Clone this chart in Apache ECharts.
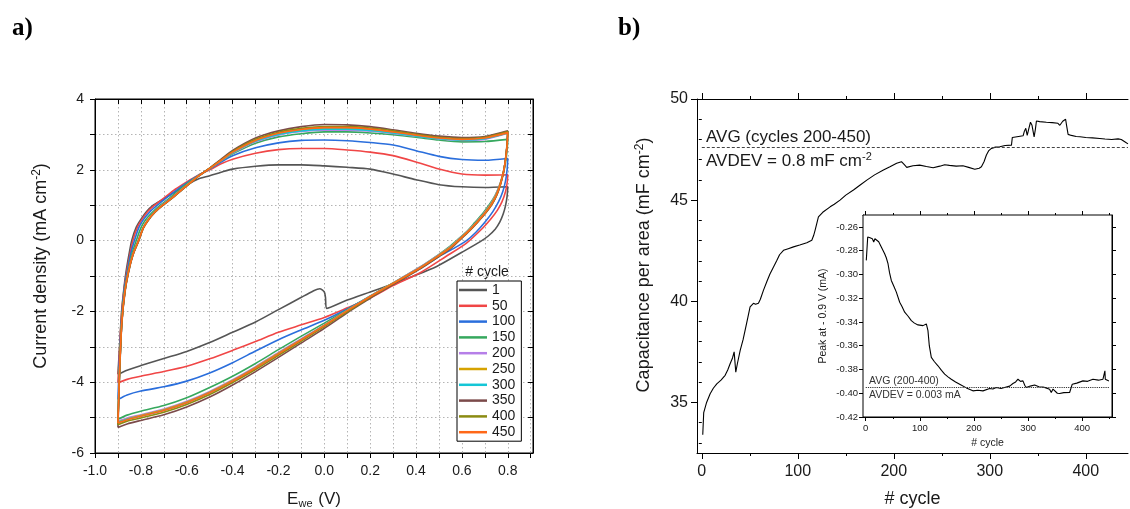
<!DOCTYPE html>
<html><head><meta charset="utf-8">
<script src="https://cdn.jsdelivr.net/npm/echarts@6/dist/echarts.min.js"></script>
<style>html,body{margin:0;padding:0;background:#fff}#c{width:1130px;height:509px}</style>
</head><body><div id="c"></div>
<script>
// ---------- Panel a: CV loops (E / V, j / mA cm-2) ----------
const cycles = ['1','50','100','150','200','250','300','350','400','450'];
const cycleColors = ['#555555','#f04646','#2a6edc','#36a85e','#b67fe8','#d6a200','#14c6d6','#7b4a4a','#8b8b12','#ff6818'];

const cv1 = [[-0.9,-3.78],[-0.893,-3.0],[-0.884,-2.0],[-0.873,-1.3],[-0.865,-0.9],[-0.852,-0.4],[-0.84,0],[-0.82,0.38],[-0.8,0.6],[-0.775,0.82],[-0.75,0.98],[-0.7,1.18],[-0.65,1.38],[-0.6,1.57],[-0.55,1.74],[-0.5,1.83],[-0.45,1.93],[-0.4,2.02],[-0.3,2.1],[-0.2,2.14],[-0.1,2.14],[0,2.11],[0.1,2.07],[0.2,2.02],[0.3,1.88],[0.4,1.72],[0.5,1.58],[0.6,1.52],[0.7,1.5],[0.8,1.52],
 [0.797,1.25],[0.79,0.98],[0.78,0.75],[0.765,0.52],[0.745,0.32],[0.715,0.13],[0.68,-0.03],[0.6,-0.33],[0.49,-0.73],[0.39,-1.0],[0.3,-1.22],[0.2,-1.45],[0.1,-1.68],[0.01,-1.92],[0.005,-1.6],[0.0,-1.45],[-0.02,-1.36],[-0.05,-1.43],[-0.1,-1.6],[-0.2,-1.95],[-0.3,-2.3],[-0.4,-2.59],[-0.5,-2.88],[-0.6,-3.13],[-0.7,-3.33],[-0.8,-3.53],[-0.86,-3.66],[-0.9,-3.78]];
const cv50 = [[-0.9,-4.02],[-0.893,-3.1],[-0.883,-2.0],[-0.872,-1.3],[-0.862,-0.9],[-0.848,-0.4],[-0.835,0],[-0.815,0.38],[-0.795,0.6],[-0.77,0.82],[-0.74,1.0],[-0.7,1.2],[-0.65,1.45],[-0.6,1.66],[-0.55,1.85],[-0.5,2.0],[-0.45,2.17],[-0.4,2.3],[-0.3,2.47],[-0.2,2.57],[-0.1,2.6],[0,2.6],[0.1,2.56],[0.2,2.5],[0.3,2.4],[0.4,2.22],[0.5,2.02],[0.6,1.88],[0.7,1.85],[0.8,1.86],
 [0.797,1.62],[0.79,1.38],[0.775,1.1],[0.755,0.86],[0.725,0.6],[0.69,0.35],[0.62,-0.07],[0.53,-0.45],[0.42,-0.9],[0.3,-1.27],[0.2,-1.62],[0.1,-1.9],[0,-2.17],[-0.1,-2.38],[-0.2,-2.59],[-0.3,-2.85],[-0.4,-3.1],[-0.5,-3.34],[-0.6,-3.55],[-0.7,-3.7],[-0.8,-3.83],[-0.86,-3.92],[-0.9,-4.02]];
const cv100 = [[-0.9,-4.49],[-0.893,-3.3],[-0.883,-2.1],[-0.872,-1.35],[-0.86,-0.9],[-0.845,-0.4],[-0.828,0],[-0.808,0.38],[-0.788,0.6],[-0.76,0.82],[-0.728,1.0],[-0.69,1.2],[-0.64,1.45],[-0.6,1.63],[-0.55,1.84],[-0.5,2.02],[-0.45,2.22],[-0.4,2.4],[-0.3,2.62],[-0.2,2.76],[-0.1,2.83],[0,2.84],[0.1,2.82],[0.2,2.77],[0.3,2.7],[0.4,2.54],[0.5,2.38],[0.6,2.29],[0.7,2.27],[0.8,2.32],
 [0.797,2.0],[0.79,1.68],[0.778,1.38],[0.76,1.1],[0.735,0.82],[0.7,0.52],[0.66,0.23],[0.62,0.0],[0.57,-0.2],[0.5,-0.45],[0.42,-0.78],[0.33,-1.1],[0.2,-1.58],[0.1,-1.93],[0,-2.25],[-0.1,-2.52],[-0.2,-2.8],[-0.3,-3.12],[-0.4,-3.45],[-0.5,-3.74],[-0.6,-3.97],[-0.7,-4.13],[-0.8,-4.25],[-0.86,-4.36],[-0.9,-4.49]];
const cv150 = [[-0.9,-5.05],[-0.893,-3.6],[-0.883,-2.2],[-0.871,-1.4],[-0.857,-0.9],[-0.84,-0.4],[-0.82,0],[-0.8,0.36],[-0.78,0.58],[-0.75,0.8],[-0.715,1.0],[-0.675,1.2],[-0.63,1.45],[-0.59,1.65],[-0.55,1.83],[-0.5,2.03],[-0.45,2.25],[-0.4,2.45],[-0.3,2.75],[-0.2,2.93],[-0.1,3.02],[0,3.07],[0.1,3.07],[0.2,3.04],[0.3,2.99],[0.4,2.92],[0.5,2.84],[0.6,2.79],[0.7,2.8],[0.8,2.86],
 [0.797,2.55],[0.79,2.2],[0.78,1.88],[0.765,1.58],[0.745,1.28],[0.72,1.02],[0.69,0.76],[0.655,0.5],[0.62,0.25],[0.58,0.02],[0.54,-0.2],[0.5,-0.39],[0.42,-0.74],[0.33,-1.08],[0.24,-1.42],[0.2,-1.56],[0.1,-1.95],[0,-2.33],[-0.1,-2.7],[-0.2,-3.08],[-0.3,-3.47],[-0.4,-3.83],[-0.5,-4.15],[-0.6,-4.44],[-0.7,-4.66],[-0.8,-4.82],[-0.86,-4.93],[-0.9,-5.05]];
const cv200 = [[-0.9,-5.1],[-0.893,-3.7],[-0.883,-2.3],[-0.87,-1.45],[-0.855,-0.9],[-0.836,-0.4],[-0.812,0],[-0.792,0.35],[-0.772,0.57],[-0.742,0.8],[-0.708,1.0],[-0.668,1.2],[-0.622,1.45],[-0.582,1.66],[-0.546,1.84],[-0.5,2.04],[-0.45,2.26],[-0.4,2.47],[-0.3,2.79],[-0.2,2.98],[-0.1,3.08],[0,3.12],[0.1,3.12],[0.2,3.09],[0.3,3.03],[0.4,2.95],[0.5,2.87],[0.6,2.83],[0.7,2.86],[0.8,3.03],
 [0.797,2.7],[0.791,2.33],[0.782,1.98],[0.768,1.64],[0.75,1.33],[0.727,1.05],[0.697,0.78],[0.662,0.52],[0.627,0.28],[0.588,0.05],[0.55,-0.17],[0.5,-0.4],[0.42,-0.74],[0.33,-1.08],[0.24,-1.42],[0.2,-1.57],[0.1,-1.97],[0,-2.38],[-0.1,-2.77],[-0.2,-3.16],[-0.3,-3.56],[-0.4,-3.93],[-0.5,-4.26],[-0.6,-4.54],[-0.7,-4.76],[-0.8,-4.92],[-0.86,-5.01],[-0.9,-5.1]];
const cv250 = [[-0.9,-5.13],[-0.893,-3.7],[-0.883,-2.3],[-0.87,-1.45],[-0.855,-0.9],[-0.835,-0.4],[-0.811,0],[-0.791,0.35],[-0.771,0.57],[-0.741,0.8],[-0.706,1.0],[-0.666,1.2],[-0.621,1.45],[-0.581,1.66],[-0.545,1.84],[-0.5,2.04],[-0.45,2.27],[-0.4,2.49],[-0.3,2.82],[-0.2,3.02],[-0.1,3.12],[0,3.17],[0.1,3.17],[0.2,3.13],[0.3,3.06],[0.4,2.97],[0.5,2.89],[0.6,2.85],[0.7,2.89],[0.8,3.04],
 [0.797,2.7],[0.791,2.33],[0.782,1.97],[0.768,1.63],[0.751,1.32],[0.728,1.04],[0.699,0.78],[0.664,0.52],[0.629,0.28],[0.59,0.05],[0.551,-0.18],[0.5,-0.41],[0.42,-0.75],[0.33,-1.09],[0.24,-1.42],[0.2,-1.58],[0.1,-1.98],[0,-2.39],[-0.1,-2.79],[-0.2,-3.18],[-0.3,-3.58],[-0.4,-3.95],[-0.5,-4.28],[-0.6,-4.56],[-0.7,-4.78],[-0.8,-4.94],[-0.86,-5.04],[-0.9,-5.13]];
const cv300 = [[-0.9,-5.14],[-0.893,-3.7],[-0.883,-2.3],[-0.87,-1.45],[-0.855,-0.9],[-0.835,-0.4],[-0.81,0],[-0.79,0.35],[-0.77,0.57],[-0.74,0.8],[-0.706,1.0],[-0.666,1.2],[-0.62,1.45],[-0.58,1.66],[-0.545,1.84],[-0.5,2.04],[-0.45,2.27],[-0.4,2.49],[-0.3,2.81],[-0.2,3.0],[-0.1,3.1],[0,3.15],[0.1,3.15],[0.2,3.11],[0.3,3.04],[0.4,2.95],[0.5,2.88],[0.6,2.84],[0.7,2.88],[0.8,3.05],
 [0.797,2.7],[0.791,2.33],[0.782,1.96],[0.769,1.62],[0.752,1.31],[0.73,1.03],[0.7,0.77],[0.666,0.52],[0.631,0.28],[0.592,0.05],[0.552,-0.19],[0.5,-0.42],[0.42,-0.76],[0.33,-1.1],[0.24,-1.43],[0.2,-1.58],[0.1,-1.98],[0,-2.4],[-0.1,-2.8],[-0.2,-3.2],[-0.3,-3.6],[-0.4,-3.97],[-0.5,-4.3],[-0.6,-4.58],[-0.7,-4.8],[-0.8,-4.96],[-0.86,-5.05],[-0.9,-5.14]];
const cv350 = [[-0.9,-5.28],[-0.893,-3.8],[-0.883,-2.35],[-0.869,-1.45],[-0.854,-0.9],[-0.834,-0.4],[-0.809,0],[-0.789,0.35],[-0.768,0.57],[-0.738,0.8],[-0.703,1.0],[-0.663,1.2],[-0.618,1.45],[-0.578,1.66],[-0.544,1.84],[-0.5,2.05],[-0.45,2.3],[-0.4,2.55],[-0.3,2.9],[-0.2,3.1],[-0.1,3.22],[0,3.28],[0.1,3.27],[0.2,3.22],[0.3,3.13],[0.4,3.03],[0.5,2.95],[0.6,2.91],[0.7,2.94],[0.8,3.1],
 [0.797,2.74],[0.791,2.35],[0.783,1.97],[0.77,1.62],[0.754,1.31],[0.732,1.03],[0.703,0.77],[0.669,0.52],[0.634,0.28],[0.595,0.04],[0.553,-0.21],[0.5,-0.45],[0.42,-0.79],[0.33,-1.13],[0.24,-1.47],[0.2,-1.63],[0.1,-2.04],[0,-2.48],[-0.1,-2.89],[-0.2,-3.3],[-0.3,-3.7],[-0.4,-4.08],[-0.5,-4.42],[-0.6,-4.7],[-0.7,-4.92],[-0.8,-5.08],[-0.86,-5.18],[-0.9,-5.28]];
const cv400 = [[-0.9,-5.2],[-0.893,-3.75],[-0.883,-2.3],[-0.87,-1.45],[-0.855,-0.9],[-0.835,-0.4],[-0.81,0],[-0.79,0.35],[-0.769,0.57],[-0.739,0.8],[-0.704,1.0],[-0.664,1.2],[-0.619,1.45],[-0.579,1.66],[-0.545,1.84],[-0.5,2.05],[-0.45,2.28],[-0.4,2.52],[-0.3,2.86],[-0.2,3.06],[-0.1,3.17],[0,3.22],[0.1,3.22],[0.2,3.18],[0.3,3.1],[0.4,3.0],[0.5,2.92],[0.6,2.88],[0.7,2.92],[0.8,3.08],
 [0.797,2.72],[0.791,2.34],[0.782,1.96],[0.769,1.62],[0.753,1.31],[0.731,1.03],[0.701,0.77],[0.667,0.52],[0.632,0.28],[0.593,0.05],[0.552,-0.2],[0.5,-0.43],[0.42,-0.77],[0.33,-1.11],[0.24,-1.45],[0.2,-1.6],[0.1,-2.01],[0,-2.43],[-0.1,-2.84],[-0.2,-3.24],[-0.3,-3.64],[-0.4,-4.01],[-0.5,-4.35],[-0.6,-4.63],[-0.7,-4.85],[-0.8,-5.01],[-0.86,-5.1],[-0.9,-5.2]];
const cv450 = [[-0.9,-5.15],[-0.893,-3.7],[-0.883,-2.3],[-0.87,-1.45],[-0.855,-0.9],[-0.835,-0.4],[-0.81,0],[-0.79,0.35],[-0.77,0.57],[-0.74,0.8],[-0.705,1.0],[-0.665,1.2],[-0.62,1.45],[-0.58,1.66],[-0.545,1.84],[-0.5,2.04],[-0.45,2.27],[-0.4,2.5],[-0.3,2.83],[-0.2,3.03],[-0.1,3.14],[0,3.19],[0.1,3.19],[0.2,3.15],[0.3,3.07],[0.4,2.98],[0.5,2.9],[0.6,2.86],[0.7,2.9],[0.8,3.05],
 [0.797,2.7],[0.791,2.33],[0.782,1.96],[0.769,1.62],[0.752,1.31],[0.73,1.03],[0.7,0.77],[0.666,0.52],[0.631,0.28],[0.592,0.05],[0.552,-0.19],[0.5,-0.42],[0.42,-0.76],[0.33,-1.1],[0.24,-1.43],[0.2,-1.58],[0.1,-1.98],[0,-2.4],[-0.1,-2.8],[-0.2,-3.2],[-0.3,-3.6],[-0.4,-3.97],[-0.5,-4.3],[-0.6,-4.58],[-0.7,-4.8],[-0.8,-4.96],[-0.86,-5.06],[-0.9,-5.15]];
const cvData = [cv1, cv50, cv100, cv150, cv200, cv250, cv300, cv350, cv400, cv450];

// ---------- Panel b: capacitance vs cycle ----------
const capacitance = [[1,33.4],[2,34.5],[5,35.0],[8.7,35.43],[12,35.7],[15.6,35.92],[20,36.1],[24.3,36.34],[27,36.6],[29.5,36.91],[32,37.2],[33.7,37.5],[35.4,36.5],[37,36.9],[40,37.57],[43,38.1],[45.1,38.56],[48,39.2],[50.3,39.72],[53.8,39.9],[56,39.85],[59,39.9],[61,40.1],[64.2,40.54],[68,41.0],[71,41.35],[74.7,41.7],[78,42.0],[81,42.3],[85.1,42.52],[90,42.6],[95.5,42.69],[102,42.78],[109.4,42.89],[114.6,43.02],[116.5,43.25],[118,43.51],[121.5,44.17],[126,44.4],[133.7,44.67],[138,44.8],[144,45.0],[150,45.25],[158,45.5],[165,45.75],[171.9,45.99],[180,46.25],[189.2,46.49],[196,46.65],[203,46.82],[208,46.9],[211,46.75],[213.5,46.62],[220,46.7],[227,46.73],[234,46.66],[241,46.6],[248,46.68],[253,46.75],[258,46.72],[265,46.68],[272,46.7],[278,46.62],[284.4,46.53],[289,46.58],[291.3,46.65],[294,46.9],[296.5,47.23],[299,47.45],[301.7,47.56],[306,47.62],[310.4,47.64],[316,47.7],[322.6,47.72],[323.5,48.1],[325,48.13],[330,48.15],[334.7,48.18],[336,48.4],[337.5,48.55],[339,48.2],[341,48.6],[342.4,48.85],[344,48.7],[346.2,48.13],[347.5,48.5],[348.6,48.91],[352,48.88],[359,48.85],[365,48.83],[371,48.8],[373,48.7],[376,48.9],[379,49.0],[380,48.7],[381.6,48.25],[385,48.2],[390,48.15],[394,48.13],[400,48.1],[407,48.08],[414.6,48.05],[420,48.02],[427,48.0],[433.7,48.03],[437,48.0],[440.6,47.89],[444,47.78]];
const capAvg = 47.6;
const capTicks = [35, 40, 45, 50];
const capMinor = [33,34,36,37,38,39,41,42,43,44,46,47,48,49];
const cycleTicks = [0, 100, 200, 300, 400];
const cycleMinor = [50, 150, 250, 350];

// ---------- Inset: peak at -0.9 V ----------
const peak = [[1.1,-0.2882],[3.7,-0.2685],[8,-0.2692],[12.2,-0.2699],[14.8,-0.2727],[17,-0.2700],[19.6,-0.2685],[24,-0.2725],[28.8,-0.2769],[35,-0.2826],[38,-0.2860],[41.2,-0.291],[44,-0.2985],[47.3,-0.3051],[52,-0.3100],[56.6,-0.3149],[62.8,-0.3234],[67,-0.3270],[72,-0.3318],[78,-0.3350],[84.3,-0.3389],[90,-0.3410],[96.6,-0.3425],[105.8,-0.3431],[112,-0.3417],[115,-0.3473],[117.5,-0.3600],[121.2,-0.3698],[127,-0.3735],[133.5,-0.3769],[140,-0.3808],[145.9,-0.3839],[152,-0.3862],[158.1,-0.3882],[166,-0.3905],[173.6,-0.3924],[186,-0.3955],[198,-0.398],[207,-0.3975],[216.6,-0.398],[229,-0.396],[235,-0.3965],[241.2,-0.3952],[250,-0.3960],[259.7,-0.3947],[266,-0.3940],[272,-0.3918],[277,-0.3905],[281.3,-0.3882],[286,-0.3900],[290.5,-0.3896],[294,-0.3935],[296.6,-0.3952],[304,-0.3940],[312,-0.393],[320,-0.3945],[327.4,-0.3947],[333,-0.3955],[339.7,-0.3966],[342.8,-0.3994],[346,-0.3965],[349,-0.398],[354,-0.4000],[358.3,-0.4002],[366,-0.3995],[376.7,-0.3994],[381.6,-0.3924],[390,-0.3915],[401.3,-0.3896],[410,-0.3900],[419.8,-0.3882],[430,-0.3890],[438.3,-0.3882],[440.5,-0.3870],[441.9,-0.3811],[442.6,-0.3882],[446,-0.3890],[449.3,-0.3896]];
const peakAvg = -0.395;
const peakTicks = [-0.42,-0.40,-0.38,-0.36,-0.34,-0.32,-0.30,-0.28,-0.26];
const peakMinor = [-0.41,-0.39,-0.37,-0.35,-0.33,-0.31,-0.29,-0.27,-0.25];
const insetCycleMinor = [50,150,250,350,450];

// ---------- build chart ----------
const FONT = 'Liberation Sans, Arial, sans-serif';
const TXT = '#1a1a1a';
function ax(o) {
  return Object.assign({
    type: 'value',
    axisLine: {show: true, onZero: false, lineStyle: {color: '#000', width: 1}},
    axisTick: {show: false},
    axisLabel: {show: false},
    splitLine: {show: false},
    minorTick: {show: false},
    minorSplitLine: {show: false}
  }, o);
}
function ticks(values, len, inside) {
  return {show: true, customValues: values, length: len, inside: !!inside, lineStyle: {color: '#000', width: 1}};
}
const noLine = {show: false};
const gridDots = {show: true, lineStyle: {type: [1.5, 2.5], color: '#b4b4b4', width: 1}};

const xAxes = [
  // panel a
  ax({gridIndex: 0, position: 'bottom', min: -1, max: 0.91, interval: 0.1,
      axisTick: {show: true, length: 5, lineStyle: {color: '#000'}},
      axisLabel: {show: true, fontSize: 14, fontFamily: FONT, color: TXT, margin: 11, showMaxLabel: false,
        formatter: v => (Math.abs(Math.round(v * 10)) % 2 === 0 && v < 0.85) ? v.toFixed(1) : ''},
      splitLine: gridDots,
      name: '{m|E}{s|we}{m| (V)}', nameLocation: 'middle', nameGap: 36,
      nameTextStyle: {color: TXT, fontFamily: FONT, rich: {m: {fontSize: 17, fontFamily: FONT, color: TXT}, s: {fontSize: 11, fontFamily: FONT, color: TXT, padding: [9, 1, 0, 0]}}}}),
  ax({gridIndex: 0, position: 'top', min: -1, max: 0.91, interval: 0.1,
      axisTick: {show: true, length: 5, inside: true, lineStyle: {color: '#000'}}}),
  // panel b
  ax({gridIndex: 1, position: 'bottom', min: -5, max: 444,
      axisTick: ticks(cycleTicks, 6),
      axisLabel: {show: true, customValues: cycleTicks, fontSize: 16, fontFamily: FONT, color: TXT, margin: 11},
      name: '# cycle', nameLocation: 'middle', nameGap: 37,
      nameTextStyle: {fontSize: 18, fontFamily: FONT, color: TXT}}),
  ax({gridIndex: 1, position: 'bottom', min: -5, max: 444, axisLine: noLine, axisTick: ticks(cycleMinor, 3)}),
  ax({gridIndex: 1, position: 'top', min: -5, max: 444, axisTick: ticks(cycleTicks, 6)}),
  ax({gridIndex: 1, position: 'top', min: -5, max: 444, axisLine: noLine, axisTick: ticks(cycleMinor, 3)}),
  // inset
  ax({gridIndex: 2, position: 'bottom', min: -5, max: 455,
      axisTick: ticks(cycleTicks, 4),
      axisLabel: {show: true, customValues: cycleTicks, fontSize: 9.5, fontFamily: FONT, color: TXT, margin: 6},
      name: '# cycle', nameLocation: 'middle', nameGap: 21,
      nameTextStyle: {fontSize: 10.5, fontFamily: FONT, color: TXT}}),
  ax({gridIndex: 2, position: 'bottom', min: -5, max: 455, axisLine: noLine, axisTick: ticks(insetCycleMinor, 2)}),
  ax({gridIndex: 2, position: 'top', min: -5, max: 455, axisTick: ticks(cycleTicks, 4)}),
  ax({gridIndex: 2, position: 'top', min: -5, max: 455, axisLine: noLine, axisTick: ticks(insetCycleMinor, 2)})
];
const yAxes = [
  // panel a
  ax({gridIndex: 0, position: 'left', min: -6, max: 4, interval: 1,
      axisTick: {show: true, length: 5, lineStyle: {color: '#000'}},
      axisLabel: {show: true, fontSize: 14, fontFamily: FONT, color: TXT, margin: 11,
        formatter: v => (Math.round(v) % 2 === 0) ? String(Math.round(v)) : ''},
      splitLine: gridDots}),
  ax({gridIndex: 0, position: 'right', min: -6, max: 4, interval: 1,
      axisTick: {show: true, length: 5, inside: true, lineStyle: {color: '#000'}}}),
  // panel b
  ax({gridIndex: 1, position: 'left', min: 32.5, max: 50,
      axisTick: ticks(capTicks, 6),
      axisLabel: {show: true, customValues: capTicks, fontSize: 16, fontFamily: FONT, color: TXT, margin: 9}}),
  ax({gridIndex: 1, position: 'left', min: 32.5, max: 50, axisLine: noLine, axisTick: ticks(capMinor, 3)}),
  // inset
  ax({gridIndex: 2, position: 'left', min: -0.42, max: -0.25,
      axisTick: ticks(peakTicks, 4),
      axisLabel: {show: true, customValues: peakTicks, fontSize: 9.5, fontFamily: FONT, color: TXT, margin: 5,
        formatter: v => v.toFixed(2)},
      name: 'Peak at - 0.9 V (mA)', nameLocation: 'middle', nameGap: 34,
      nameTextStyle: {fontSize: 10.5, fontFamily: FONT, color: TXT}}),
  ax({gridIndex: 2, position: 'left', min: -0.42, max: -0.25, axisLine: noLine, axisTick: ticks(peakMinor, 2)}),
  ax({gridIndex: 2, position: 'right', min: -0.42, max: -0.25, axisTick: ticks(peakTicks, 4)}),
  ax({gridIndex: 2, position: 'right', min: -0.42, max: -0.25, axisLine: noLine, axisTick: ticks(peakMinor, 2)})
];

const series = cycles.map((name, i) => ({
  name: name, type: 'line', xAxisIndex: 0, yAxisIndex: 0,
  data: cvData[i], showSymbol: false, symbol: 'none', smooth: 0.25,
  lineStyle: {color: cycleColors[i], width: 1.6}, itemStyle: {color: cycleColors[i]},
  emphasis: {disabled: true}, silent: true, z: 2 + i
}));
series.push({
  name: 'Capacitance', type: 'line', xAxisIndex: 2, yAxisIndex: 2,
  data: capacitance, showSymbol: false, symbol: 'none',
  lineStyle: {color: '#000', width: 1.1}, silent: true,
  markLine: {silent: true, symbol: 'none', label: {show: false},
    lineStyle: {color: '#444', type: [3, 2], width: 1},
    data: [[{coord: [0, capAvg]}, {coord: [444, capAvg]}]]}
});
series.push({
  name: 'Peak', type: 'line', xAxisIndex: 6, yAxisIndex: 4,
  data: peak, showSymbol: false, symbol: 'none',
  lineStyle: {color: '#000', width: 1.1}, silent: true,
  markLine: {silent: true, symbol: 'none', label: {show: false},
    lineStyle: {color: '#333', type: [1.2, 1], width: 1},
    data: [[{coord: [0, peakAvg]}, {coord: [450, peakAvg]}]]}
});

const supRich = (fs) => ({s: {fontSize: Math.round(fs * 0.65), fontFamily: FONT, fill: TXT, color: TXT, padding: [0, 0, Math.round(fs * 0.5), 0]}});

const option = {
  animation: false,
  backgroundColor: '#fff',
  textStyle: {fontFamily: FONT},
  grid: [
    {left: 95, top: 99, width: 438, height: 354, outerBoundsMode: 'none', show: true, borderColor: '#000', borderWidth: 1, backgroundColor: 'transparent'},
    {left: 697, top: 99, width: 431, height: 354, outerBoundsMode: 'none'},
    {left: 863, top: 215, width: 249, height: 202, outerBoundsMode: 'none', show: true, backgroundColor: '#fff', borderColor: '#000', borderWidth: 1, z: 3}
  ],
  xAxis: xAxes,
  yAxis: yAxes,
  legend: {
    data: cycles, orient: 'vertical', left: 457, top: 281,
    icon: 'rect', itemWidth: 28, itemHeight: 2.5, itemGap: 1.8, padding: [2, 6, 2, 2],
    borderColor: '#000', borderWidth: 1, backgroundColor: '#fff', selectedMode: false,
    textStyle: {fontSize: 14, fontFamily: FONT, color: TXT, lineHeight: 14}
  },
  graphic: [
    {type: 'text', left: 12, top: 16, style: {text: 'a)', fontSize: 25, fontWeight: 'bold', fontFamily: 'Liberation Serif, Times New Roman, serif', fill: '#000'}},
    {type: 'text', left: 618, top: 16, style: {text: 'b)', fontSize: 25, fontWeight: 'bold', fontFamily: 'Liberation Serif, Times New Roman, serif', fill: '#000'}},
    {type: 'text', x: 41, y: 266, rotation: Math.PI / 2,
     style: {text: 'Current density (mA cm{s|-2})', fontSize: 18, fontFamily: FONT, fill: TXT, align: 'center', verticalAlign: 'middle', rich: supRich(18)}},
    {type: 'text', x: 644, y: 265, rotation: Math.PI / 2,
     style: {text: 'Capacitance per area (mF cm{s|-2})', fontSize: 18, fontFamily: FONT, fill: TXT, align: 'center', verticalAlign: 'middle', rich: supRich(18)}},
    {type: 'text', x: 487, y: 272, style: {text: '# cycle', fontSize: 14, fontFamily: FONT, fill: TXT, align: 'center', verticalAlign: 'middle'}},
    {type: 'text', x: 706, y: 137, style: {text: 'AVG (cycles 200-450)', fontSize: 17, fontFamily: FONT, fill: TXT, align: 'left', verticalAlign: 'middle'}},
    {type: 'text', x: 706, y: 161, style: {text: 'AVDEV = 0.8 mF cm{s|-2}', fontSize: 17, fontFamily: FONT, fill: TXT, align: 'left', verticalAlign: 'middle', rich: supRich(17)}},
    {type: 'text', x: 869, y: 381, z: 10, style: {text: 'AVG (200-400)', fontSize: 10.5, fontFamily: FONT, fill: '#333', align: 'left', verticalAlign: 'middle'}},
    {type: 'text', x: 869, y: 395, z: 10, style: {text: 'AVDEV = 0.003 mA', fontSize: 10.5, fontFamily: FONT, fill: '#333', align: 'left', verticalAlign: 'middle'}}
  ],
  series: series
};
const chart = echarts.init(document.getElementById('c'), null, {renderer: 'canvas'});
chart.setOption(option);
</script></body></html>
